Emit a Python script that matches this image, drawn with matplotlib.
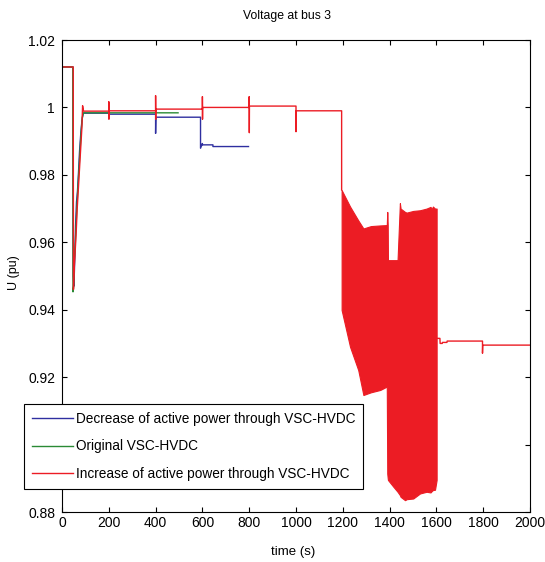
import matplotlib
matplotlib.use("Agg")
import matplotlib.pyplot as plt

plt.rcParams['font.family'] = ['Liberation Sans', 'DejaVu Sans']

# ---- data ----
blue_t = [0, 47, 48, 51, 55, 58, 62, 66, 70, 75, 80, 85, 90,
          200, 200, 201, 400, 400, 401, 592, 592, 600, 600, 645, 645, 797]
blue_v = [1.012, 1.012, 0.950, 0.947, 0.956, 0.965, 0.972, 0.975, 0.980, 0.987, 0.992, 0.996, 0.9983,
          0.9983, 0.9970, 0.9980, 0.9980, 0.9923, 0.9971, 0.9971, 0.9879, 0.9893, 0.9889, 0.9889, 0.9884, 0.9884]

green_t = [0, 46, 47, 50, 53, 57, 62, 67, 72, 77, 82, 87, 92, 496]
green_v = [1.012, 1.012, 0.9453, 0.9470, 0.955, 0.960, 0.968, 0.975, 0.981, 0.987, 0.993, 0.997, 0.9984, 0.9984]

red_t = [0, 48, 49, 52, 56, 60, 65, 70, 75, 80, 85, 88, 92,
         200, 200, 200.5, 201, 400, 400, 400.5, 401, 600, 600, 600.5, 601,
         800, 800, 800.5, 801, 1000, 1000, 1001, 1195, 1195]
red_v = [1.012, 1.012, 0.946, 0.952, 0.957, 0.962, 0.970, 0.976, 0.982, 0.988, 0.994, 1.0005, 0.9989,
         0.9989, 1.0017, 0.9965, 0.9990, 0.9990, 1.0035, 0.9965, 0.9995, 0.9995, 1.0032, 0.9965, 1.0000,
         1.0000, 1.0032, 0.9925, 1.0004, 1.0004, 0.9928, 0.9990, 0.9990, 0.9755]

# oscillation envelope of the red trace (1195 s - 1601 s)
osc_t = [1195, 1231, 1266, 1288, 1320, 1360, 1388, 1390, 1392, 1393, 1416, 1434, 1444,
         1447, 1466, 1473, 1501, 1530, 1558, 1575, 1580, 1585, 1594, 1601]
osc_upper = [0.9755, 0.9706, 0.9665, 0.9641, 0.9648, 0.9650, 0.9651, 0.9690, 0.9651, 0.9547, 0.9547, 0.9547, 0.9716,
             0.9700, 0.9690, 0.9688, 0.9693, 0.9695, 0.9700, 0.9705, 0.9698, 0.9706, 0.9700, 0.9700]
osc_lower = [0.9399, 0.9290, 0.9221, 0.9147, 0.9155, 0.9162, 0.9172, 0.8914, 0.8900, 0.8895, 0.8875, 0.8860, 0.8850,
             0.8845, 0.8835, 0.8838, 0.8840, 0.8855, 0.8860, 0.8858, 0.8862, 0.8865, 0.8866, 0.8895]

red2_t = [1600, 1615, 1616, 1625, 1626, 1645, 1646, 1797, 1797, 1798, 2000]
red2_v = [0.9315, 0.9315, 0.9300, 0.9300, 0.9303, 0.9303, 0.9307, 0.9307, 0.9271, 0.9295, 0.9295]

labels = ['Decrease of active power through VSC-HVDC',
          'Original VSC-HVDC',
          'Increase of active power through VSC-HVDC']
xticks = [0, 200, 400, 600, 800, 1000, 1200, 1400, 1600, 1800, 2000]
yticks = [0.88, 0.90, 0.92, 0.94, 0.96, 0.98, 1.00, 1.02]
ytick_labels = ['0.88', '0.9', '0.92', '0.94', '0.96', '0.98', '1', '1.02']

BLUE = '#2f2fa0'
GREEN = '#2a8a35'
RED = '#ec1c24'

fig = plt.figure(figsize=(5.45, 5.62), dpi=100)
ax = fig.add_axes([62/545, 1 - 512/562, (530 - 62)/545, (512 - 40)/562])

hb, = ax.plot(blue_t, blue_v, color=BLUE, lw=1.0, label=labels[0])
hg, = ax.plot(green_t, green_v, color=GREEN, lw=1.0, label=labels[1])
hr, = ax.plot(red_t, red_v, color=RED, lw=1.0, label=labels[2])
ax.fill_between(osc_t, osc_lower, osc_upper, color=RED, lw=0.8, edgecolor=RED)
ax.plot(red2_t, red2_v, color=RED, lw=1.0)

ax.set_xlim(0, 2000)
ax.set_ylim(0.88, 1.02)
ax.set_xticks(xticks)
ax.set_xticklabels([str(t) for t in xticks])
ax.set_yticks(yticks)
ax.set_yticklabels(ytick_labels)
ax.tick_params(direction='in', length=3.6, width=0.8, top=True, right=True,
               labelsize=10, colors='black')
ax.tick_params(axis='x', pad=3)
ax.tick_params(axis='y', pad=5)
for s in ax.spines.values():
    s.set_linewidth(0.8)

fig.text(287/545, 1 - 16/562, 'Voltage at bus 3', ha='center', va='center', fontsize=8.8)
fig.text(293/545, 1 - 552/562, 'time (s)', ha='center', va='center', fontsize=9.5)
fig.text(14/545, 1 - 273/562, 'U (pu)', ha='center', va='center', rotation=90, fontsize=9)

leg = ax.legend(handles=[hb, hg, hr], loc='lower left',
                bbox_to_anchor=(24/545, 1 - 489/562), bbox_transform=fig.transFigure,
                borderaxespad=0, fancybox=False, framealpha=1, edgecolor='black',
                fontsize=9.8, handlelength=3.0, handletextpad=0.2, labelspacing=0.98,
                borderpad=0.6)
leg.get_frame().set_linewidth(0.8)

fig.savefig('out.png', dpi=100)
